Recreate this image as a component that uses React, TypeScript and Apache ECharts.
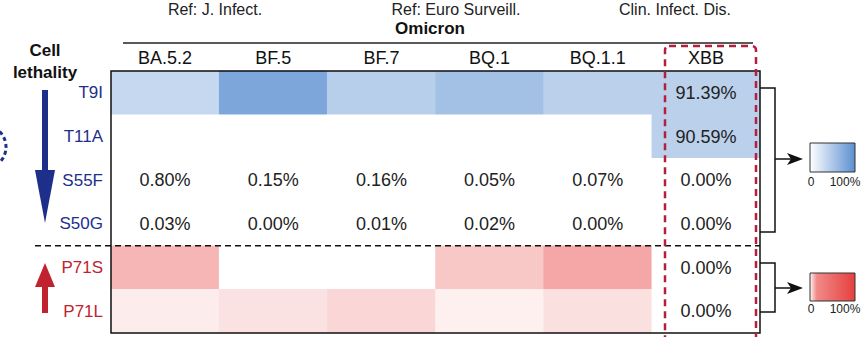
import React, { useEffect, useRef } from "react";
import * as echarts from "echarts";

// ---- data ----
const variants = ["BA.5.2", "BF.5", "BF.7", "BQ.1", "BQ.1.1", "XBB"];
const mutations = ["T9I", "T11A", "S55F", "S50G", "P71S", "P71L"];
const refLabels = ["Ref: J. Infect.", "Ref: Euro Surveill.", "Clin. Infect. Dis."];
const groupTitle = "Omicron";
const sideTitle = ["Cell", "lethality"];
const legendTicks = ["0", "100%"];

// colour intensity (0-100) read from each cell's shade
const shadeT9I = [35, 79, 43, 56, 42, 42];
const shadeT11A = [0, 0, 0, 0, 0, 42];
const shadeS55F = [0, 0, 0, 0, 0, 0];
const shadeS50G = [0, 0, 0, 0, 0, 0];
const shadeP71S = [38, 0, 0, 29, 46, 0];
const shadeP71L = [10, 15, 21, 8, 16, 0];

// printed frequencies
const textT9I = ["", "", "", "", "", "91.39%"];
const textT11A = ["", "", "", "", "", "90.59%"];
const textS55F = ["0.80%", "0.15%", "0.16%", "0.05%", "0.07%", "0.00%"];
const textS50G = ["0.03%", "0.00%", "0.01%", "0.02%", "0.00%", "0.00%"];
const textP71S = ["", "", "", "", "", "0.00%"];
const textP71L = ["", "", "", "", "", "0.00%"];

const blueRows = [shadeT9I, shadeT11A, shadeS55F, shadeS50G];
const redRows = [shadeP71S, shadeP71L];
const texts = [textT9I, textT11A, textS55F, textS50G, textP71S, textP71L];

// ---- layout / style ----
const FONT = "'Liberation Sans', Arial, Helvetica, sans-serif";
const L = 111, T = 71, W = 649, H = 262;
const BLUE_END = "#5b8fd0";
const RED_END = "#e6403d";
const NAVY = "#1d2f8a";
const CRIMSON = "#c0232f";

export default function App() {
  const ref = useRef<HTMLDivElement>(null);
  useEffect(() => {
    document.body.style.margin = "0";
    const chart = echarts.init(ref.current!, null, { renderer: "svg" });
    const blueData: number[][] = [];
    blueRows.forEach((row, y) => row.forEach((v, x) => blueData.push([x, y, v])));
    const redData: number[][] = [];
    redRows.forEach((row, y) => row.forEach((v, x) => redData.push([x, y + 4, v])));

    const rowH = H / mutations.length;
    const sepY = T + rowH * 4;

    const label = {
      show: true,
      fontSize: 18,
      color: "#222",
      fontFamily: FONT,
      formatter: (p: any) => texts[p.data[1]][p.data[0]],
    };

    const z = 100;
    const refStyle = (text: string) => ({ text, fontSize: 16, fontFamily: FONT, fill: "#222", align: "center", verticalAlign: "middle" });
    const graphic: any[] = [
      // frame
      { type: "rect", z, shape: { x: L, y: T, width: W, height: H }, style: { fill: "none", stroke: "#111", lineWidth: 1.5 } },
      // ref texts
      { type: "text", z, x: 215, y: 9, style: refStyle(refLabels[0]) },
      { type: "text", z, x: 456, y: 9, style: refStyle(refLabels[1]) },
      { type: "text", z, x: 675, y: 9, style: refStyle(refLabels[2]) },
      // Omicron title + rule
      { type: "text", z, x: 430, y: 28, style: { text: groupTitle, fontSize: 17, fontWeight: "bold", fontFamily: FONT, fill: "#111", align: "center", verticalAlign: "middle" } },
      { type: "line", z, shape: { x1: 123, y1: 43, x2: 753, y2: 43 }, style: { stroke: "#222", lineWidth: 1.5 } },
      // Cell lethality
      { type: "text", z, x: 45, y: 50, style: { text: sideTitle[0], fontSize: 17, fontWeight: "bold", fontFamily: FONT, fill: "#111", align: "center", verticalAlign: "middle" } },
      { type: "text", z, x: 45, y: 72, style: { text: sideTitle[1], fontSize: 17, fontWeight: "bold", fontFamily: FONT, fill: "#111", align: "center", verticalAlign: "middle" } },
      // blue arrow down
      { type: "rect", z, shape: { x: 42, y: 90, width: 6, height: 82 }, style: { fill: NAVY } },
      { type: "polygon", z, shape: { points: [[35, 170], [55, 170], [45, 223]] }, style: { fill: NAVY } },
      // red arrow up
      { type: "polygon", z, shape: { points: [[35, 287], [55, 287], [45, 263]] }, style: { fill: CRIMSON } },
      { type: "rect", z, shape: { x: 42, y: 285, width: 6, height: 28 }, style: { fill: CRIMSON } },
      // dotted arc at left edge
      { type: "arc", z, shape: { cx: -16, cy: 147, r: 22, startAngle: -1.1, endAngle: 1.1 }, style: { stroke: NAVY, lineWidth: 3, lineDash: [4, 3], fill: "none" } },
      // separator
      { type: "line", z, shape: { x1: 35, y1: sepY, x2: L + W, y2: sepY }, style: { stroke: "#111", lineWidth: 1.5, lineDash: [6, 4] } },
      // XBB highlight
      { type: "rect", z: z + 1, shape: { x: 665, y: 46, width: 91, height: 320, r: 4 }, style: { fill: "none", stroke: "#b31f3d", lineWidth: 2.5, lineDash: [7, 5] } },
      // blue bracket
      { type: "polyline", z, shape: { points: [[L + W, 88], [775, 88], [775, 232], [L + W, 232]] }, style: { stroke: "#111", lineWidth: 1.5, fill: "none" } },
      { type: "line", z, shape: { x1: 775, y1: 159, x2: 795, y2: 159 }, style: { stroke: "#111", lineWidth: 1.5 } },
      { type: "polygon", z, shape: { points: [[787, 153], [803, 159], [787, 165], [791, 159]] }, style: { fill: "#111" } },
      // red bracket
      { type: "polyline", z, shape: { points: [[L + W, 263], [775, 263], [775, 312], [L + W, 312]] }, style: { stroke: "#111", lineWidth: 1.5, fill: "none" } },
      { type: "line", z, shape: { x1: 775, y1: 288, x2: 795, y2: 288 }, style: { stroke: "#111", lineWidth: 1.5 } },
      { type: "polygon", z, shape: { points: [[787, 282], [803, 288], [787, 294], [791, 288]] }, style: { fill: "#111" } },
      // blue legend
      { type: "rect", z, shape: { x: 810, y: 143, width: 45, height: 29 }, style: { stroke: "#333", lineWidth: 1, fill: { type: "linear", x: 0, y: 0, x2: 1, y2: 0, colorStops: [{ offset: 0, color: "#ffffff" }, { offset: 1, color: BLUE_END }] } } },
      { type: "text", z, x: 811, y: 182, style: { text: legendTicks[0], fontSize: 12, fontFamily: FONT, fill: "#222", align: "center", verticalAlign: "middle" } },
      { type: "text", z, x: 845, y: 182, style: { text: legendTicks[1], fontSize: 12, fontFamily: FONT, fill: "#222", align: "center", verticalAlign: "middle" } },
      // red legend
      { type: "rect", z, shape: { x: 810, y: 273, width: 45, height: 28 }, style: { stroke: "#333", lineWidth: 1, fill: { type: "linear", x: 0, y: 0, x2: 1, y2: 0, colorStops: [{ offset: 0, color: "#fff4f4" }, { offset: 0.15, color: "#f08a88" }, { offset: 1, color: RED_END }] } } },
      { type: "text", z, x: 811, y: 309, style: { text: legendTicks[0], fontSize: 12, fontFamily: FONT, fill: "#222", align: "center", verticalAlign: "middle" } },
      { type: "text", z, x: 845, y: 309, style: { text: legendTicks[1], fontSize: 12, fontFamily: FONT, fill: "#222", align: "center", verticalAlign: "middle" } },
    ];

    chart.setOption({
      animation: false,
      backgroundColor: "#ffffff",
      grid: { left: L, top: T, width: W, height: H },
      xAxis: {
        type: "category",
        data: variants,
        position: "top",
        axisLine: { show: false },
        axisTick: { show: false },
        splitLine: { show: false },
        axisLabel: { fontSize: 18, color: "#111", fontFamily: FONT, margin: 4, interval: 0 },
      },
      yAxis: {
        type: "category",
        data: mutations,
        inverse: true,
        axisLine: { show: false },
        axisTick: { show: false },
        splitLine: { show: false },
        axisLabel: {
          fontSize: 17,
          fontFamily: FONT,
          margin: 8,
          interval: 0,
          color: (_v: any, i: number) => (i < 4 ? NAVY : CRIMSON),
        },
      },
      visualMap: [
        { type: "continuous", show: false, min: 0, max: 100, dimension: 2, seriesIndex: 0, inRange: { color: ["#ffffff", BLUE_END] } },
        { type: "continuous", show: false, min: 0, max: 100, dimension: 2, seriesIndex: 1, inRange: { color: ["#ffffff", RED_END] } },
      ],
      series: [
        { type: "heatmap", data: blueData, label, itemStyle: { borderWidth: 0 }, emphasis: { disabled: true } },
        { type: "heatmap", data: redData, label, itemStyle: { borderWidth: 0 }, emphasis: { disabled: true } },
      ],
      graphic,
    });
    return () => chart.dispose();
  }, []);
  return <div ref={ref} style={{ position: "absolute", left: 0, top: 0, width: 863, height: 337 }} />;
}
